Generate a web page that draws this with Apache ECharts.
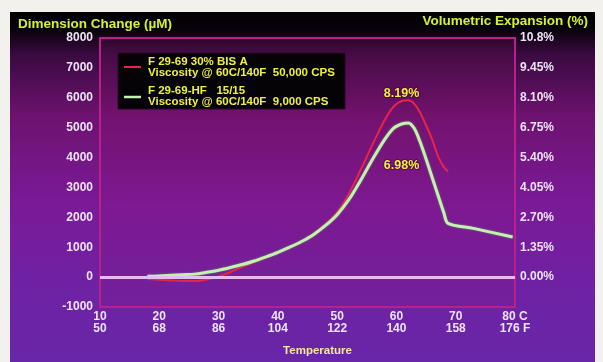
<!DOCTYPE html>
<html><head><meta charset="utf-8">
<script src="https://cdn.jsdelivr.net/npm/echarts@6/dist/echarts.min.js"></script>
<style>html,body{margin:0;padding:0;background:#f3f1ee;}#c{width:603px;height:362px;}</style>
</head><body><div id="c"></div>
<script>
// ---- data ----
const redTemps  = [18, 20, 22, 24, 26, 28, 30, 32, 34, 36, 38, 40, 42, 44, 46, 48, 50, 52, 54, 56, 58, 59.5, 61, 62, 63, 64, 65, 66, 67, 68, 68.7];
const redValues = [-60, -90, -110, -130, -130, -80, 20, 170, 340, 500, 660, 820, 1000, 1200, 1450, 1770, 2170, 2800, 3600, 4450, 5250, 5700, 5900, 5915, 5800, 5500, 5080, 4620, 4050, 3680, 3530];
const greenTemps  = [18, 20, 22, 24, 26, 28, 30, 32, 34, 36, 38, 40, 42, 44, 46, 48, 50, 52, 54, 56, 58, 59.5, 61, 62, 63, 64, 65, 66, 67, 68, 68.7, 73, 79.6];
const greenValues = [30, 40, 60, 80, 100, 160, 230, 320, 420, 540, 680, 830, 1000, 1190, 1420, 1720, 2090, 2600, 3250, 3950, 4600, 4980, 5130, 5160, 4980, 4520, 3950, 3350, 2750, 2150, 1800, 1630, 1340];
const seriesNames = ["F 29-69 30% BIS A", "F 29-69-HF   15/15"];
const seriesNotes = ["Viscosity @ 60C/140F  50,000 CPS", "Viscosity @ 60C/140F  9,000 CPS"];
const peakLabels = ["8.19%", "6.98%"];
const peakTemps = [61.2, 61.2];
const peakValues = [5915, 5160];
const tickC = ["10", "20", "30", "40", "50", "60", "70", "80 C"];
const tickF = ["50", "68", "86", "104", "122", "140", "158", "176 F"];
const rightLabels = ["", "0.00%", "1.35%", "2.70%", "4.05%", "5.40%", "6.75%", "8.10%", "9.45%", "10.8%"];

const zip = (a, b) => a.map((v, i) => [v, b[i]]);
const labelColor = '#ece4f4';
const yellow = '#eef040';
const F = 'Liberation Sans, Arial, sans-serif';

const chart = echarts.init(document.getElementById('c'));
chart.setOption({
  animation: false,
  backgroundColor: 'transparent',
  grid: { left: 100, right: 88, top: 38, bottom: 48, show: true, borderColor: '#b8208c', borderWidth: 2, backgroundColor: 'rgba(150,20,110,0.15)' },
  xAxis: {
    type: 'value', min: 10, max: 80, interval: 10,
    axisLine: { show: false }, axisTick: { show: false }, splitLine: { show: false },
    axisLabel: { color: labelColor, fontWeight: 'bold', fontSize: 12, lineHeight: 12, margin: 4, fontFamily: F,
      formatter: v => { const i = Math.round((v - 10) / 10); return tickC[i] + '\n' + tickF[i]; } },
    name: 'Temperature', nameLocation: 'middle', nameGap: 38,
    nameTextStyle: { color: '#f2ea90', fontWeight: 'bold', fontSize: 11.5, fontFamily: F, padding: [0, 0, 0, 20] }
  },
  yAxis: [{
    type: 'value', min: -1000, max: 8000, interval: 1000,
    axisLine: { show: false }, axisTick: { show: false }, splitLine: { show: false },
    axisLabel: { color: labelColor, fontWeight: 'bold', fontSize: 12, margin: 7, fontFamily: F, formatter: v => String(v) }
  }, {
    type: 'value', min: -1000, max: 8000, interval: 1000, position: 'right',
    axisLine: { show: false }, axisTick: { show: false }, splitLine: { show: false },
    axisLabel: { color: labelColor, fontWeight: 'bold', fontSize: 12, margin: 5, fontFamily: F,
      formatter: v => rightLabels[Math.round((v + 1000) / 1000)] }
  }],
  series: [{
    type: 'line', data: [], z: 1, silent: true,
    markLine: { silent: true, symbol: 'none', label: { show: false },
      lineStyle: { color: '#e4bcf2', width: 3, type: 'solid' }, data: [{ yAxis: 0 }] }
  }, {
    name: seriesNames[0], type: 'line', data: zip(redTemps, redValues), smooth: 0.3, symbol: 'none', z: 3,
    lineStyle: { color: '#e8244a', width: 2 },
    markPoint: { symbol: 'circle', symbolSize: 1, itemStyle: { color: 'transparent' },
      label: { show: true, formatter: () => peakLabels[0], color: yellow, fontWeight: 'bold', fontSize: 12.5, fontFamily: F, offset: [-2, -7], textBorderColor: 'rgba(70,0,50,0.6)', textBorderWidth: 2 },
      data: [{ coord: [peakTemps[0], peakValues[0]] }] }
  }, {
    name: seriesNames[1], type: 'line', data: zip(greenTemps, greenValues), smooth: 0.3, symbol: 'none', z: 4,
    lineStyle: { color: '#c6f0b2', width: 3, shadowColor: 'rgba(90,200,90,0.7)', shadowBlur: 2 },
    markPoint: { symbol: 'circle', symbolSize: 1, itemStyle: { color: 'transparent' },
      label: { show: true, formatter: () => peakLabels[1], color: yellow, fontWeight: 'bold', fontSize: 12.5, fontFamily: F, offset: [-2, 43], textBorderColor: 'rgba(70,0,50,0.6)', textBorderWidth: 2 },
      data: [{ coord: [peakTemps[1], peakValues[1]] }] }
  }],
  graphic: [
    { type: 'rect', z: -100, silent: true, shape: { x: 10, y: 12, width: 585, height: 350 },
      style: { fill: new echarts.graphic.LinearGradient(0, 0, 0, 1, [
        { offset: 0, color: '#000000' }, { offset: 0.05, color: '#08020a' }, { offset: 0.12, color: '#3a0a40' },
        { offset: 0.3, color: '#6e1270' }, { offset: 0.55, color: '#7a1a98' }, { offset: 0.8, color: '#6e22a4' }, { offset: 1, color: '#6826a8' }]) } },
    { type: 'text', z: 100, x: 18, y: 24, style: { text: 'Dimension Change (µM)', fill: '#d6f034', font: 'bold 13.5px ' + F, verticalAlign: 'middle' } },
    { type: 'text', z: 100, x: 588, y: 21, style: { text: 'Volumetric Expansion (%)', fill: '#d6f034', font: 'bold 13.5px ' + F, verticalAlign: 'middle', align: 'right' } },
    { type: 'rect', z: 90, shape: { x: 118, y: 53, width: 227, height: 56 }, style: { fill: '#050305', stroke: '#2a0828', lineWidth: 1 } },
    { type: 'line', z: 100, shape: { x1: 124, y1: 67, x2: 141, y2: 67 }, style: { stroke: '#e8244a', lineWidth: 2 } },
    { type: 'line', z: 100, shape: { x1: 124, y1: 97, x2: 141, y2: 97 }, style: { stroke: '#c6f0b2', lineWidth: 2.5 } },
    { type: 'text', z: 100, x: 148, y: 62, style: { text: seriesNames[0], fill: yellow, font: 'bold 11.5px ' + F, verticalAlign: 'middle' } },
    { type: 'text', z: 100, x: 148, y: 73, style: { text: seriesNotes[0], fill: yellow, font: 'bold 11.5px ' + F, verticalAlign: 'middle' } },
    { type: 'text', z: 100, x: 148, y: 91, style: { text: seriesNames[1], fill: yellow, font: 'bold 11.5px ' + F, verticalAlign: 'middle' } },
    { type: 'text', z: 100, x: 148, y: 102, style: { text: seriesNotes[1], fill: yellow, font: 'bold 11.5px ' + F, verticalAlign: 'middle' } }
  ]
});
</script></body></html>
